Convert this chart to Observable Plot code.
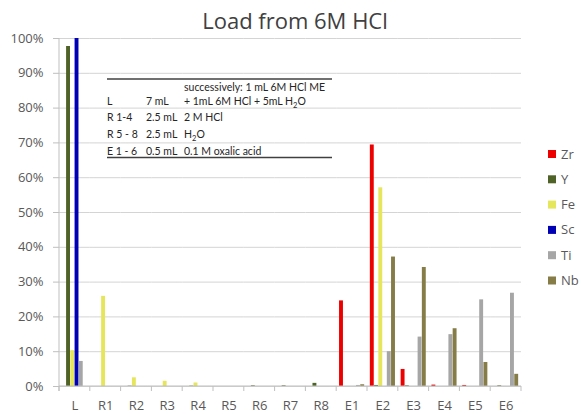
<!DOCTYPE html>
<html>
<head>
<meta charset="utf-8">
<script src="https://cdn.jsdelivr.net/npm/d3@7"></script>
<script src="https://cdn.jsdelivr.net/npm/@observablehq/plot@0.6"></script>
<style>
  html, body { margin: 0; padding: 0; background: white; }
  #chart { width: 582px; height: 414px; overflow: hidden; }
</style>
</head>
<body>
<div id="chart"></div>
<script>
const categories = ["L","R1","R2","R3","R4","R5","R6","R7","R8","E1","E2","E3","E4","E5","E6"];
const series = ["Zr","Y","Fe","Sc","Ti","Nb"];
const colors = ["#ec0000","#4f6228","#e6e65c","#0000b4","#a6a6a6","#867c47"];
// percent values per series, one per category
const Zr = [0, 0, 0, 0, 0, 0, 0, 0, 0, 24.6, 69.4, 4.9, 0.4, 0.3, 0];
const Y  = [97.7, 0, 0.1, 0, 0.1, 0, 0.2, 0.2, 0.9, 0, 0.3, 0.2, 0, 0, 0.2];
const Fe = [10.3, 25.9, 2.5, 1.5, 1.0, 0, 0, 0, 0, 0, 57.1, 0, 0, 0, 0];
const Sc = [100, 0, 0, 0, 0, 0, 0, 0, 0, 0, 0, 0, 0, 0, 0];
const Ti = [7.2, 0, 0, 0, 0, 0, 0, 0, 0, 0.3, 10.0, 14.2, 14.9, 24.9, 26.8];
const Nb = [0, 0, 0, 0, 0, 0, 0, 0, 0, 0.5, 37.2, 34.2, 16.6, 6.9, 3.5];
const yTicks = [0, 0.1, 0.2, 0.3, 0.4, 0.5, 0.6, 0.7, 0.8, 0.9, 1.0];
const title = "Load from 6M HCl";
const tableRows = [
  {c1: "", c2: "", c3: "successively: 1 mL 6M HCl ME"},
  {c1: "L", c2: "7 mL", c3: ["+ 1mL 6M HCl + 5mL H", "2", "O"]},
  {c1: "R 1-4", c2: "2.5 mL", c3: "2 M HCl"},
  {c1: "R 5 - 8", c2: "2.5 mL", c3: ["H", "2", "O"]},
  {c1: "E 1 - 6", c2: "0.5 mL", c3: "0.1 M oxalic acid"}
];

const bySeries = {Zr, Y, Fe, Sc, Ti, Nb};
const data = [];
categories.forEach((c, i) => series.forEach(s => data.push({cat: c, el: s, v: bySeries[s][i] / 100})));

const font = "'Open Sans', sans-serif";
const plot = Plot.plot({
  width: 582,
  height: 414,
  marginTop: 38,
  marginBottom: 28,
  marginLeft: 59,
  marginRight: 61,
  style: {fontFamily: font, fontSize: "13px", color: "#595959", background: "white", overflow: "visible"},
  fx: {domain: categories, padding: 0, round: false, label: null, axis: null},
  x: {domain: series, paddingInner: 0.08, paddingOuter: 0.67, round: false, axis: null},
  y: {domain: [0, 1], label: null, axis: null},
  color: {domain: series, range: colors},
  marks: [
    Plot.gridY(yTicks, {stroke: "#d4d4d4", strokeOpacity: 1}),
    Plot.barY(data, {fx: "cat", x: "el", y: "v", fill: "el"}),
    Plot.axisY({ticks: yTicks, tickFormat: d3.format(".0%"), tickSize: 6, tickPadding: 10, stroke: "#bfbfbf", fill: "#595959", fontSize: 13}),
    Plot.axisFx({anchor: "bottom", tickSize: 0, tickPadding: 14, fill: "#595959", fontSize: 13, label: null})
  ]
});

const svg = d3.select(plot);
const fx = plot.scale("fx");
const yS = plot.scale("y");
const y0 = yS.apply(0), y1 = yS.apply(1);
const left = fx.apply(categories[0]);
const right = fx.apply(categories[categories.length - 1]) + fx.bandwidth;
const g = svg.append("g");
// axis lines
g.append("line").attr("x1", left).attr("x2", left).attr("y1", y1).attr("y2", y0 + 5).attr("stroke", "#bfbfbf");
g.append("line").attr("x1", left).attr("x2", right).attr("y1", y0).attr("y2", y0).attr("stroke", "#bfbfbf");
categories.forEach((c, i) => {
  const xx = fx.apply(c);
  g.append("line").attr("x1", xx).attr("x2", xx).attr("y1", y0).attr("y2", y0 + 5).attr("stroke", "#bfbfbf");
});
g.append("line").attr("x1", right).attr("x2", right).attr("y1", y0).attr("y2", y0 + 5).attr("stroke", "#bfbfbf");

// title
svg.append("text").attr("x", 295).attr("y", 29).attr("text-anchor", "middle")
  .attr("font-family", font).attr("font-size", 22).attr("fill", "#404040").text(title);

// legend
const color = plot.scale("color");
series.forEach((s, i) => {
  const cy = 154 + i * 25.3;
  svg.append("rect").attr("x", 548).attr("y", cy - 4).attr("width", 8).attr("height", 8).attr("fill", color.apply(s));
  svg.append("text").attr("x", 561).attr("y", cy).attr("dy", "0.35em").attr("text-anchor", "start")
    .attr("font-family", font).attr("font-size", 13).attr("fill", "#595959").text(s);
});

// annotation table
const tfont = "Lato, 'Open Sans', sans-serif";
const tg = svg.append("g").attr("font-family", tfont).attr("font-size", 10.5).attr("fill", "#262626").attr("text-anchor", "start");
tg.append("line").attr("x1", 107).attr("x2", 332).attr("y1", 79).attr("y2", 79).attr("stroke", "#404040").attr("stroke-width", 1.3);
tg.append("line").attr("x1", 107).attr("x2", 332).attr("y1", 157.5).attr("y2", 157.5).attr("stroke", "#404040").attr("stroke-width", 1.3);
const rowBase = [91, 105, 121, 138, 155];
const colX = [107, 146, 184];
tableRows.forEach((r, i) => {
  [r.c1, r.c2, r.c3].forEach((t, j) => {
    const tx = tg.append("text").attr("x", colX[j]).attr("y", rowBase[i]);
    if (Array.isArray(t)) {
      tx.append("tspan").text(t[0]);
      tx.append("tspan").attr("font-size", 7.5).attr("dy", 2.5).text(t[1]);
      tx.append("tspan").attr("dy", -2.5).text(t[2]);
    } else {
      tx.text(t);
    }
  });
});

document.getElementById("chart").appendChild(plot);
</script>
</body>
</html>
